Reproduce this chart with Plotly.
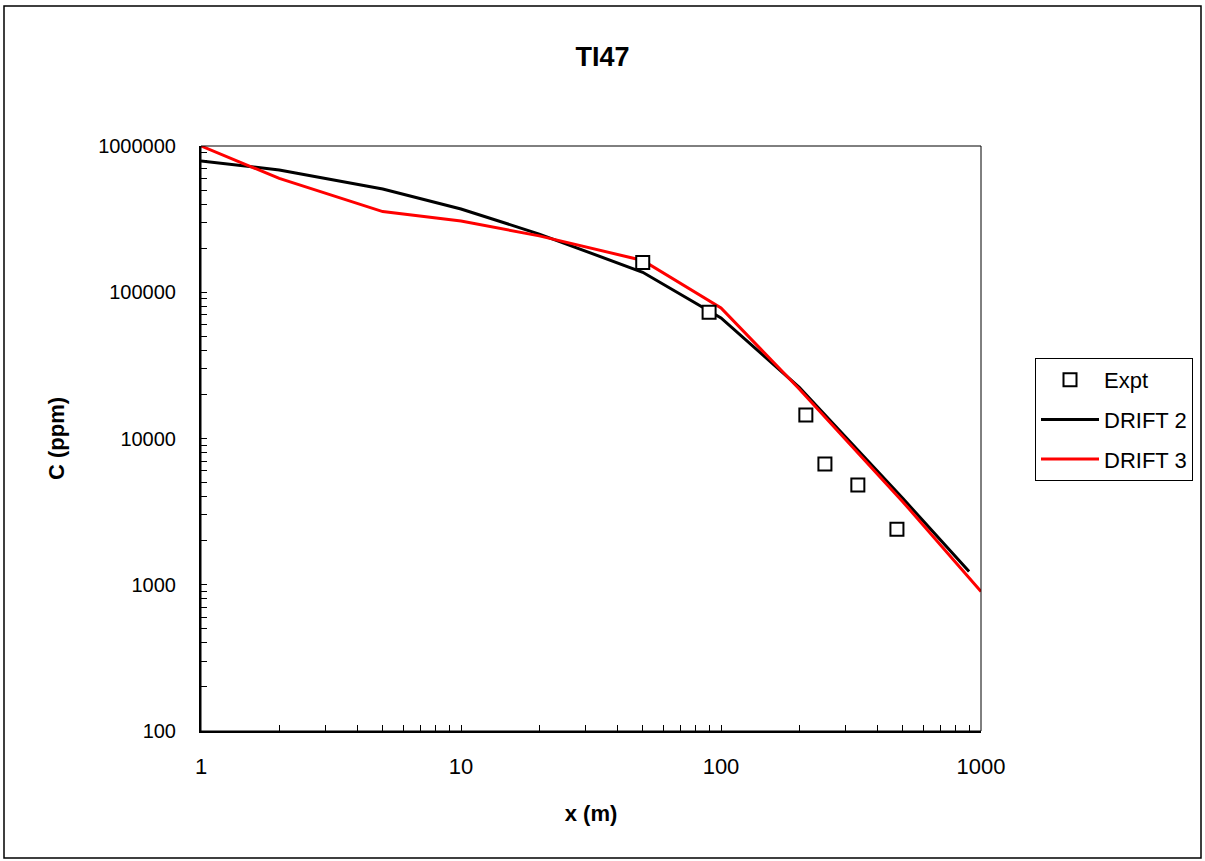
import plotly.graph_objects as go

# Data
expt_x = [50, 90, 212, 251, 336, 475]
expt_y = [160000, 73000, 14500, 6700, 4800, 2400]

drift2_x = [1, 2, 5, 10, 20, 50, 100, 200, 500, 900]
drift2_y = [790000, 685000, 508000, 371000, 250000, 137000, 66700, 22400, 3900, 1230]

drift3_x = [1, 2, 5, 10, 20, 50, 100, 200, 500, 1000]
drift3_y = [1000000, 600000, 356000, 307000, 243000, 165000, 78000, 21800, 3700, 900]

x_ticks = [1, 10, 100, 1000]
x_ticklabels = ["1", "10", "100", "1000"]
y_ticks = [100, 1000, 10000, 100000, 1000000]
y_ticklabels = ["100", "1000", "10000", "100000", "1000000"]

FONT = "Arial, 'Liberation Sans', sans-serif"

fig = go.Figure()
fig.add_trace(go.Scatter(x=drift2_x, y=drift2_y, mode="lines", name="DRIFT 2",
                         legendgroup="d2",
                         line=dict(color="black", width=3), legendrank=2))
fig.add_trace(go.Scatter(x=drift3_x, y=drift3_y, mode="lines", name="DRIFT 3",
                         legendgroup="d3",
                         line=dict(color="#ff0000", width=3), legendrank=3))
fig.add_trace(go.Scatter(x=expt_x, y=expt_y, mode="markers", name="Expt",
                         legendgroup="ex",
                         marker=dict(symbol="square", size=13, color="white",
                                     line=dict(color="black", width=2)),
                         legendrank=1))

W, H = 1205, 861
L, R, T, B = 201, 981, 146, 731
pw, ph = R - L, B - T

def px(x):
    return (x - L) / pw

def py(y):
    return (B - y) / ph

fig.update_layout(
    width=W, height=H,
    margin=dict(l=L, r=W - R, t=T, b=H - B),
    paper_bgcolor="white", plot_bgcolor="white",
    font=dict(family=FONT, size=22, color="black"),
    title=dict(text="<b>TI47</b>", x=0.5, xref="container", xanchor="center",
               y=1 - 57 / H, yref="container", yanchor="middle",
               font=dict(size=27, family=FONT, color="black")),
    showlegend=True,
    legend=dict(x=px(1035), y=py(358), xanchor="left", yanchor="top",
                bordercolor="black", borderwidth=1, bgcolor="white",
                font=dict(size=22, family=FONT), itemwidth=58,
                traceorder="grouped", tracegroupgap=8),
    xaxis=dict(type="log", range=[0, 3], tickvals=x_ticks, ticktext=x_ticklabels,
               ticks="inside", ticklen=6, tickwidth=1, tickcolor="black",
               showline=True, linecolor="black", linewidth=2, mirror=False,
               showgrid=False, zeroline=False, ticklabelstandoff=15,
               tickfont=dict(size=22, family=FONT),
               minor=dict(ticks="inside", ticklen=6, tickcolor="black", dtick="D1", showgrid=False),
               title=dict(text="<b>x (m)</b>", font=dict(size=22, family=FONT), standoff=27)),
    yaxis=dict(type="log", range=[2, 6], tickvals=y_ticks, ticktext=y_ticklabels,
               ticks="inside", ticklen=6, tickwidth=1, tickcolor="black",
               showline=True, linecolor="black", linewidth=2, mirror=False,
               showgrid=False, zeroline=False, ticklabelstandoff=19,
               tickfont=dict(size=20, family=FONT),
               minor=dict(ticks="inside", ticklen=6, tickcolor="black", dtick="D1", showgrid=False),
               title=dict(text="<b>C (ppm)</b>", font=dict(size=22, family=FONT), standoff=27)),
)

# plot-area frame (thin top/right)
fig.add_shape(type="rect", xref="paper", yref="paper", x0=0, y0=0, x1=1, y1=1,
              line=dict(color="black", width=1), layer="above")
# outer chart border
fig.add_shape(type="rect", xref="paper", yref="paper",
              x0=px(4), y0=py(858), x1=px(1201), y1=py(6),
              line=dict(color="black", width=1.5), layer="above")

fig.write_html("out.html", config={"displayModeBar": False},
               post_script="document.body.style.margin='0px';document.body.style.overflow='hidden';")
